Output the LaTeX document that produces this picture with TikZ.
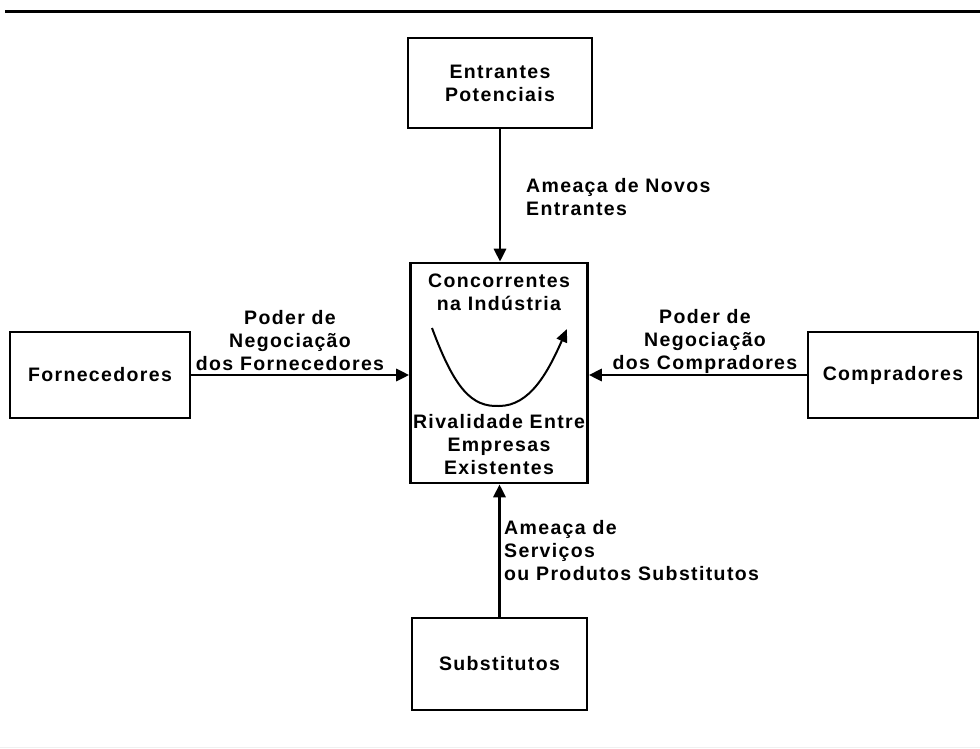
\documentclass[tikz,border=0pt]{standalone}
\usepackage{fontspec}
\setmainfont{Liberation Sans}[LetterSpace=7]
\usetikzlibrary{arrows.meta}
\tikzset{
  txt/.style={font=\bfseries\fontsize{19.5}{23}\selectfont, align=center, inner sep=0pt},
  box/.style={draw, line width=2.6pt, txt},
  conn/.style={line width=2.8pt, -{Triangle[length=13pt,width=12pt]}},
}
\begin{document}
\begin{tikzpicture}[x=1pt,y=-1pt]
\useasboundingbox (0,0) rectangle (980,749);
\coordinate (rl) at (5,12);
\coordinate (rr) at (980,12);
\draw[line width=3pt] (rl) -- (rr);
\coordinate (bl) at (0,747);
\coordinate (br) at (980,747);
\draw[black!6, line width=1pt] (bl) -- (br);

\node[box, minimum width=184pt, minimum height=90pt] (top) at (500,83) {Entrantes\\Potenciais};
\node[box, minimum width=177pt, minimum height=220pt] (mid) at (499,373) {};
\node[txt] (midt) at (499,292) {Concorrentes\\na Indústria};
\node[txt] (midb) at (499,445) {Rivalidade Entre\\Empresas\\Existentes};
\node[box, minimum width=180pt, minimum height=86pt] (left) at (100,375) {Fornecedores};
\node[box, minimum width=170pt, minimum height=86pt] (right) at (893,375) {Compradores};
\node[box, minimum width=175pt, minimum height=92pt] (bot) at (499.5,664) {Substitutos};

\draw[conn] (top.south) -- (top.south |- mid.north);
\draw[conn] (left.east) -- (mid.west |- left.east);
\draw[conn] (right.west) -- (mid.east |- right.west);
\draw[conn] (bot.north) -- (bot.north |- mid.south);

\node[txt, align=left, anchor=west] (lt) at (526,197) {Ameaça de Novos\\Entrantes};
\node[txt] (ll) at (290,341) {Poder de\\Negociação\\dos Fornecedores};
\node[txt] (lr) at (705,341) {Poder de\\Negociação\\dos Compradores};
\node[txt, align=left, anchor=west] (lb) at (504,551) {Ameaça de\\Serviços\\ou Produtos Substitutos};

\coordinate (c1) at (432,328);
\coordinate (c2) at (499,406);
\coordinate (c3) at (567,329);
\draw[line width=2pt, -{Triangle[length=13pt,width=11pt]}] (c1) .. controls (455,390) and (472,407) .. (c2) .. controls (530,406) and (548,372) .. (c3);
\end{tikzpicture}
\end{document}
